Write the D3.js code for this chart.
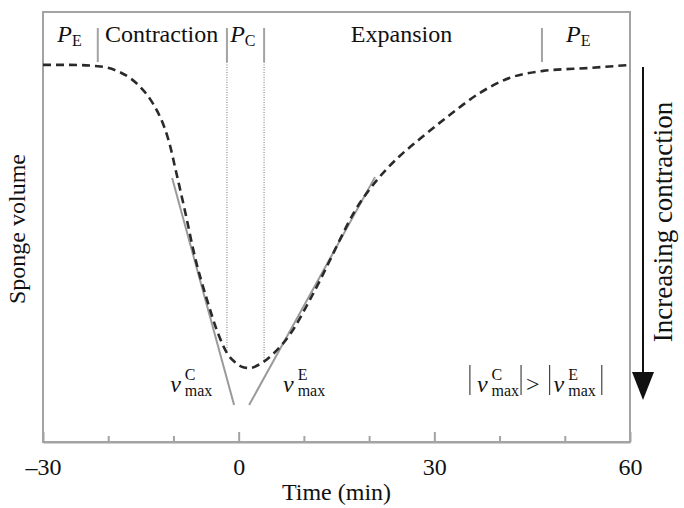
<!DOCTYPE html>
<html>
<head>
<meta charset="utf-8">
<script src="https://cdn.jsdelivr.net/npm/d3@7/dist/d3.min.js"></script>
<style>
  body { margin: 0; background: #fff; }
  text { font-family: "Liberation Serif", "Times New Roman", serif; fill: #111; }
</style>
</head>
<body>
<div id="chart"></div>
<script>
// sponge volume over one contraction / expansion cycle
var timeMin = [-30, -25.9, -21.6, -18.2, -16.7, -15.1, -13.6, -12.4, -11.3, -10.5, -9.8, -8.2, -6.7, -4.9, -3.2, -1.8, -0.6, 0.7, 1.7, 3.0, 5.3, 7.9, 10.9, 14.0, 15.5, 17.8, 20.1, 22.4, 24.7, 27.8, 32.4, 37.0, 41.6, 46.7, 53.9, 60];
var volume  = [87.7, 87.7, 87.4, 86.0, 84.7, 82.6, 79.8, 76.7, 72.8, 68.8, 64.2, 53.5, 43.0, 33.3, 25.4, 20.7, 18.6, 17.4, 17.2, 17.9, 20.5, 25.1, 33.0, 42.3, 47.0, 53.7, 58.8, 63.0, 66.5, 70.5, 76.1, 81.2, 84.7, 86.3, 87.0, 87.7];

var majorTicks = [-30, 0, 30, 60];
var minorTicks = [-20, -10, 10, 20, 40, 50];

// phases
var phaseNames = ["P_E", "Contraction", "P_C", "Expansion", "P_E"];
var phaseStart = [-27.8, -20.5, -1.3, 17.2, 50.2];
var phaseBounds = [-21.6, -1.8, 3.9, 46.5];
var dottedBounds = [-1.8, 3.9];

// max rate tangents
var tangentCTime = [-10.2, -0.7], tangentCVol = [61.4, 8.6];
var tangentETime = [1.6, 20.9],   tangentEVol = [8.6, 61.6];

// label anchors (time, volume)
var vLabelC = [-10.5, 11.6], vLabelE = [6.8, 11.6], ineqLabel = [35.45, 11.6];

var totalWidth = 684, totalHeight = 508,
    margin = {top: 12, right: 54, bottom: 66, left: 43},
    width = totalWidth - margin.left - margin.right,
    height = totalHeight - margin.top - margin.bottom,
    grey = "#a3a3a3";

var x = d3.scaleLinear().domain([-30, 60]).range([0, width]),
    y = d3.scaleLinear().domain([0, 100]).range([height, 0]);

var svg = d3.select("#chart").append("svg")
    .attr("width", totalWidth)
    .attr("height", totalHeight)
  .append("g")
    .attr("transform", "translate(" + margin.left + "," + margin.top + ")");

svg.append("rect")
    .attr("width", width)
    .attr("height", height)
    .attr("fill", "none")
    .attr("stroke", grey)
    .attr("stroke-width", 2);

var minor = svg.append("g")
    .attr("transform", "translate(0," + height + ")")
    .call(d3.axisBottom(x).tickValues(minorTicks).tickSize(-6).tickSizeOuter(0).tickFormat(""));
minor.select(".domain").remove();

var major = svg.append("g")
    .attr("transform", "translate(0," + height + ")")
    .call(d3.axisBottom(x).tickValues(majorTicks).tickSize(-10).tickSizeOuter(0).tickPadding(16)
      .tickFormat(function(d) { return d < 0 ? "\u2013" + Math.abs(d) : d; }));
major.selectAll("text").style("font-size", "24px").attr("fill", "#111");
svg.selectAll(".tick line, .domain").attr("stroke", grey).attr("stroke-width", 2);

svg.append("text")
    .attr("x", width / 2)
    .attr("y", height + 58)
    .attr("text-anchor", "middle")
    .style("font-size", "24px")
    .text("Time (min)");

svg.append("text")
    .attr("transform", "translate(" + (-18) + "," + (height / 2 + 2) + ") rotate(-90)")
    .attr("text-anchor", "middle")
    .style("font-size", "24px")
    .text("Sponge volume");

// phase separators
var volAt = function(t) {
  var i = d3.bisectLeft(timeMin, t);
  var k = (t - timeMin[i - 1]) / (timeMin[i] - timeMin[i - 1]);
  return volume[i - 1] + k * (volume[i] - volume[i - 1]);
};
svg.selectAll(".sep")
    .data(phaseBounds)
    .join("line")
    .attr("x1", function(d) { return x(d); })
    .attr("x2", function(d) { return x(d); })
    .attr("y1", 16)
    .attr("y2", 50)
    .attr("stroke", grey)
    .attr("stroke-width", 2);
svg.selectAll(".dot")
    .data(dottedBounds)
    .join("line")
    .attr("x1", function(d) { return x(d); })
    .attr("x2", function(d) { return x(d); })
    .attr("y1", 50)
    .attr("y2", function(d) { return y(volAt(d)); })
    .attr("stroke", grey)
    .attr("stroke-width", 1.5)
    .attr("stroke-dasharray", "1,1.5");

var phaseText = svg.selectAll(".phase")
    .data(phaseNames)
    .join("text")
    .attr("x", function(d, i) { return x(phaseStart[i]); })
    .attr("y", 30)
    .style("font-size", "24px");
phaseText.each(function(d) {
  var t = d3.select(this), parts = d.split("_");
  if (parts.length == 1) { t.text(d); return; }
  t.append("tspan").style("font-style", "italic").text(parts[0]);
  t.append("tspan").attr("dy", 4).style("font-size", "16px").text(parts[1]);
});

// tangents
var line = d3.line()
    .x(function(d) { return x(d[0]); })
    .y(function(d) { return y(d[1]); });
svg.append("path")
    .datum(d3.zip(tangentCTime, tangentCVol))
    .attr("fill", "none").attr("stroke", "#9a9a9a").attr("stroke-width", 2)
    .attr("d", line);
svg.append("path")
    .datum(d3.zip(tangentETime, tangentEVol))
    .attr("fill", "none").attr("stroke", "#9a9a9a").attr("stroke-width", 2)
    .attr("d", line);

// volume curve
svg.append("path")
    .datum(d3.zip(timeMin, volume))
    .attr("fill", "none")
    .attr("stroke", "#2a2a2a")
    .attr("stroke-width", 2.6)
    .attr("stroke-dasharray", "8,5")
    .attr("d", line.curve(d3.curveMonotoneX));

// v_max labels
function vmax(px, py, sup) {
  var t = svg.append("text")
    .attr("x", px)
    .attr("y", py)
    .style("font-size", "24px");
  t.append("tspan").style("font-style", "italic").text("v");
  t.append("tspan").attr("dx", 4).attr("dy", -12).style("font-size", "16px").text(sup);
  t.append("tspan").attr("dx", sup == "C" ? -10.7 : -9.8).attr("dy", 16).style("font-size", "16px").text("max");
  return t.node().getBBox().width;
}
vmax(x(vLabelC[0]), y(vLabelC[1]), "C");
vmax(x(vLabelE[0]), y(vLabelE[1]), "E");

// |v^C_max| > |v^E_max|
var px = x(ineqLabel[0]), py = y(ineqLabel[1]);
function bar(bx) {
  svg.append("line")
    .attr("x1", bx).attr("x2", bx)
    .attr("y1", py - 27).attr("y2", py + 3)
    .attr("stroke", "#444").attr("stroke-width", 1.2);
}
bar(px);
px += 7;
px += vmax(px, py, "C") + 2;
bar(px);
px += 5;
var gt = svg.append("text").attr("x", px).attr("y", py).style("font-size", "24px").text(">");
px += gt.node().getBBox().width + 10;
bar(px);
px += 4;
px += vmax(px, py, "E") + 6;
bar(px);

// increasing contraction arrow
svg.append("line")
    .attr("x1", width + 13).attr("x2", width + 13)
    .attr("y1", 55).attr("y2", 362)
    .attr("stroke", "#111").attr("stroke-width", 2);
svg.append("path")
    .attr("d", "M" + (width + 2) + ",360L" + (width + 24) + ",360L" + (width + 13) + ",388Z")
    .attr("fill", "#111");
svg.append("text")
    .attr("transform", "translate(" + (width + 42) + "," + 210 + ") rotate(-90)")
    .attr("text-anchor", "middle")
    .style("font-size", "27px")
    .text("Increasing contraction");
</script>
</body>
</html>
